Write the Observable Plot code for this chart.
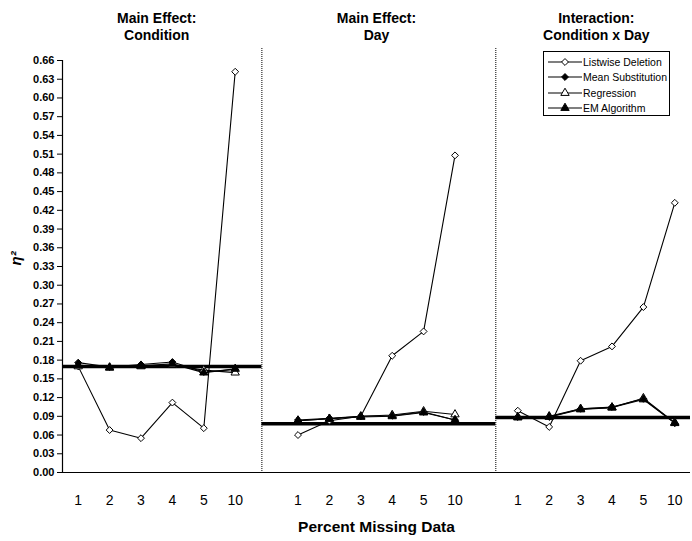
<!DOCTYPE html>
<html><head><meta charset="utf-8">
<script src="https://cdn.jsdelivr.net/npm/d3@7"></script>
<script src="https://cdn.jsdelivr.net/npm/@observablehq/plot@0.6"></script>
<style>
body{margin:0;background:#fff;}
#wrap{position:relative;width:692px;height:541px;font-family:"Liberation Sans",Arial,sans-serif;}
#legend{position:absolute;left:543px;top:51px;width:127px;height:65px;border:1px solid #000;background:#fff;box-sizing:border-box;padding-top:2px;}
.row{display:flex;align-items:center;height:15.5px;font-size:10.5px;color:#000;}
.row svg{display:block;margin-left:4px;margin-right:1px;}
</style></head><body><div id="wrap"></div>
<script>
const categories = ["1","2","3","4","5","10"];
const panels = ["Main Effect:\nCondition","Main Effect:\nDay","Interaction:\nCondition x Day"];
const methods = ["Listwise Deletion","Mean Substitution","Regression","EM Algorithm"];
const listwise   = [[0.170,0.068,0.055,0.112,0.071,0.642],[0.060,0.083,0.090,0.187,0.226,0.508],[0.099,0.073,0.179,0.202,0.265,0.432]];
const meanSub    = [[0.176,0.169,0.173,0.177,0.161,0.165],[0.084,0.087,0.090,0.091,0.097,0.084],[0.089,0.089,0.102,0.105,0.118,0.079]];
const regression = [[0.170,0.168,0.170,0.172,0.164,0.160],[0.083,0.086,0.090,0.092,0.098,0.093],[0.089,0.090,0.102,0.104,0.119,0.080]];
const emAlg      = [[0.172,0.168,0.171,0.174,0.160,0.166],[0.083,0.086,0.089,0.090,0.096,0.084],[0.088,0.089,0.101,0.104,0.117,0.079]];
const reference  = [0.170,0.078,0.088];
const yTicks = [0,0.03,0.06,0.09,0.12,0.15,0.18,0.21,0.24,0.27,0.30,0.33,0.36,0.39,0.42,0.45,0.48,0.51,0.54,0.57,0.60,0.63,0.66];
const xLabel = "Percent Missing Data";
const yLabel = "η²";

// layout helpers
const slot = categories.length + 1;
const pos = (p, i) => p * slot + i;
const xDomain = [-0.5, pos(panels.length - 1, categories.length - 1) + 0.5];
const dividers = [5.85, 13.3];
const bounds = [xDomain[0], ...dividers, xDomain[1]];

const styles = [
  {symbol: "diamond2", fill: "white"},
  {symbol: "diamond2", fill: "black"},
  {symbol: "triangle", fill: "white"},
  {symbol: "triangle", fill: "black"}
];
const seriesValues = [listwise, meanSub, regression, emAlg];

const rows = [];
seriesValues.forEach((vals, m) => vals.forEach((arr, p) => arr.forEach((v, i) => {
  rows.push({method: methods[m], m, panel: p, key: p + "-" + m, x: pos(p, i), value: v});
})));
const refRows = reference.map((v, p) => ({value: v, x1: bounds[p], x2: bounds[p + 1]}));
const xTicks = panels.flatMap((_, p) => categories.map((_, i) => pos(p, i)));

const marks = [
  Plot.ruleX(dividers, {stroke: "#000", strokeWidth: 1, strokeDasharray: "1,1"}),
  Plot.ruleY(refRows, {y: "value", x1: "x1", x2: "x2", stroke: "#000", strokeWidth: 3.5}),
  Plot.ruleY([0], {stroke: "#000", strokeWidth: 1.2}),
  Plot.ruleX([xDomain[0]], {y1: 0, y2: yTicks[yTicks.length - 1], stroke: "#000", strokeWidth: 1.2}),
  Plot.axisY({ticks: yTicks, tickFormat: d3.format(".2f"), tickSize: 5, tickPadding: 3, fontWeight: "bold", fontSize: 11, label: null}),
  Plot.axisX({ticks: xTicks, tickFormat: d => categories[d % slot], tickSize: 0, tickPadding: 23, fontSize: 14, label: null})
];
methods.forEach((name, m) => {
  const data = rows.filter(d => d.m === m);
  marks.push(Plot.line(data, {x: "x", y: "value", z: "key", stroke: "#000", strokeWidth: 1.1}));
});
methods.forEach((name, m) => {
  const data = rows.filter(d => d.m === m);
  marks.push(Plot.dot(data, {x: "x", y: "value", symbol: () => styles[m].symbol, r: 3.1, fill: styles[m].fill, stroke: "#000", strokeWidth: 1}));
});
marks.push(
  Plot.text(panels, {x: (d, p) => pos(p, 2.5), frameAnchor: "top", lineAnchor: "bottom", dy: -9, fontSize: 14, fontWeight: "bold", lineHeight: 1.2, fill: "#000"}),
  Plot.text([yLabel], {frameAnchor: "left", rotate: -90, dx: -46, dy: 5, fontSize: 15, fontWeight: "bold", fontStyle: "italic", fill: "#000"}),
  Plot.text([xLabel], {x: pos(1, 2.5), frameAnchor: "bottom", dy: 59, fontSize: 15.5, fontWeight: "bold", fill: "#000"})
);

const chart = Plot.plot({
  width: 692, height: 541,
  marginLeft: 62, marginRight: 2, marginTop: 48, marginBottom: 69,
  insetTop: 12,
  x: {type: "linear", domain: xDomain},
  y: {domain: [0, yTicks[yTicks.length - 1]]},
  style: {fontFamily: "'Liberation Sans', Arial, sans-serif", color: "#000", background: "#fff"},
  marks
});
const wrap = document.getElementById("wrap");
wrap.appendChild(chart);

// legend
const legend = document.createElement("div");
legend.id = "legend";
methods.forEach((name, m) => {
  const row = document.createElement("div");
  row.className = "row";
  const sym = styles[m].symbol === "diamond2" ? d3.symbolDiamond2 : d3.symbolTriangle;
  const path = d3.symbol(sym, Math.PI * 3.1 * 3.1)();
  row.innerHTML = `<svg width="34" height="12"><line x1="0" x2="34" y1="6" y2="6" stroke="#000" stroke-width="1.1"/><path d="${path}" transform="translate(17,6)" fill="${styles[m].fill}" stroke="#000"/></svg><span>${name}</span>`;
  legend.appendChild(row);
});
wrap.appendChild(legend);
</script></body></html>
